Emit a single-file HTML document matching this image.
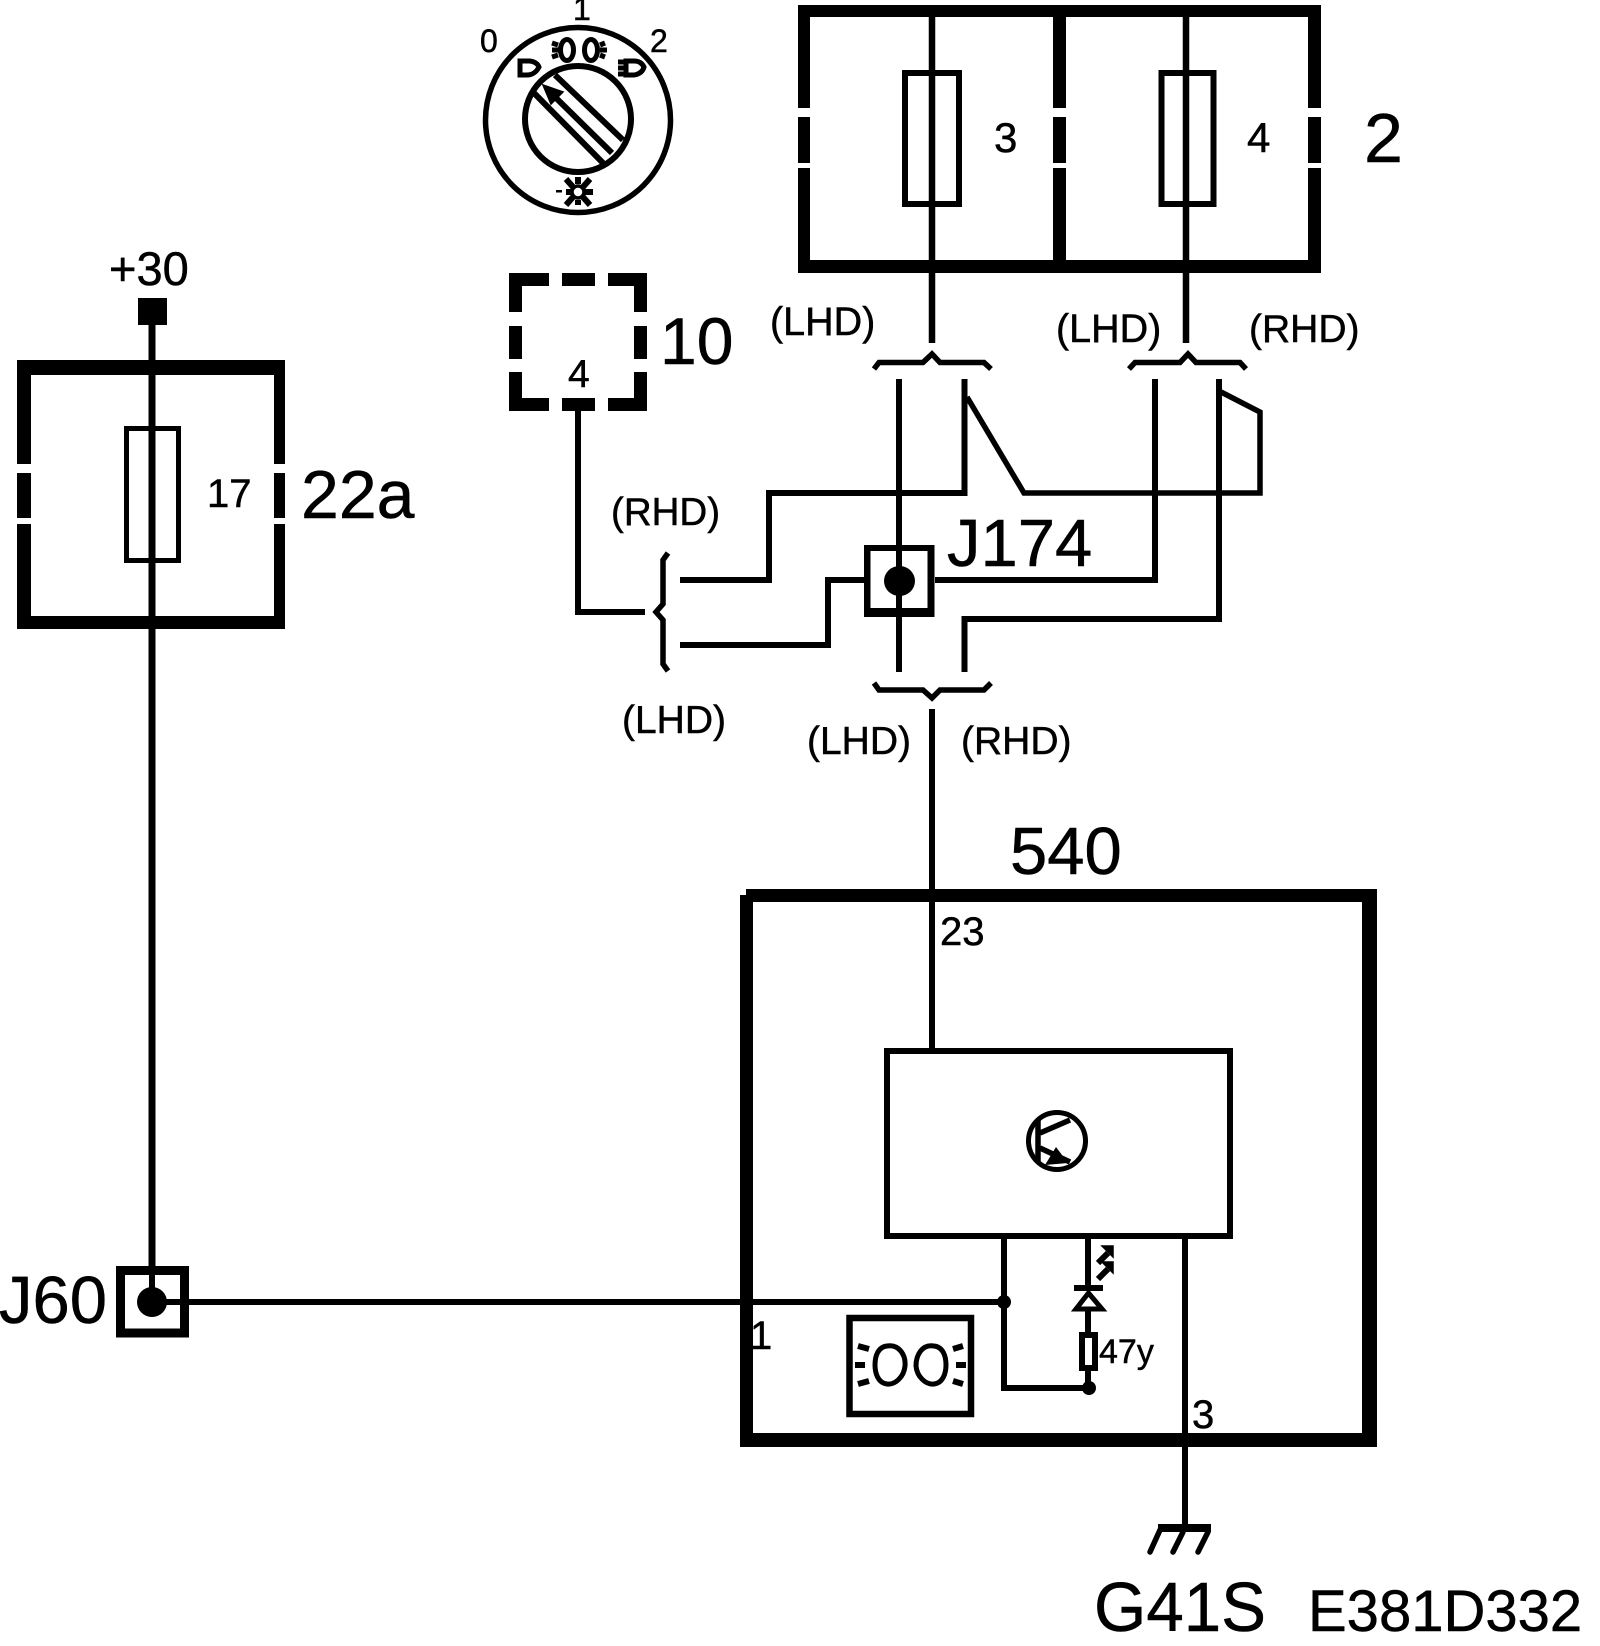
<!DOCTYPE html>
<html><head><meta charset="utf-8"><style>html,body{margin:0;padding:0;background:#fff}svg{display:block}text{font-family:"Liberation Sans",sans-serif;fill:#000;stroke:#000;stroke-width:.5px}</style></head>
<body>
<svg width="1600" height="1646" viewBox="0 0 1600 1646" xmlns="http://www.w3.org/2000/svg">
<rect width="1600" height="1646" fill="#fff"/>
<!-- fuse box 22a -->
<rect x="17" y="360" width="268" height="269"/>
<rect x="31" y="375" width="243" height="241" fill="#fff"/>
<g fill="#fff"><rect x="15" y="464" width="18" height="9"/><rect x="15" y="518" width="18" height="6"/><rect x="272" y="464" width="16" height="9"/><rect x="272" y="518" width="16" height="6"/></g>
<rect x="138" y="298" width="29" height="27"/>
<rect x="126.500" y="428.500" width="52" height="132" fill="#fff" stroke="#000" stroke-width="5"/>
<path d="M152 325V1302" stroke="#000" stroke-width="7" fill="none"/>
<!-- J60 -->
<rect x="120.500" y="1270.500" width="64" height="62.500" fill="#fff" stroke="#000" stroke-width="9"/>
<path d="M152 1266V1302M152 1302H1004" stroke="#000" stroke-width="6" fill="none"/>
<circle cx="152" cy="1302" r="15"/>
<!-- fuse box 2 -->
<rect x="798" y="5" width="523" height="268"/>
<rect x="810" y="17" width="243" height="243" fill="#fff"/>
<rect x="1066" y="17" width="242" height="243" fill="#fff"/>
<g fill="#fff"><rect x="796" y="108" width="16" height="9"/><rect x="796" y="163" width="16" height="5"/><rect x="1051" y="108" width="18" height="9"/><rect x="1051" y="163" width="18" height="5"/><rect x="1306" y="108" width="17" height="9"/><rect x="1306" y="163" width="17" height="5"/></g>
<rect x="905" y="73" width="54" height="131" fill="#fff" stroke="#000" stroke-width="6"/>
<rect x="1161.500" y="73" width="52" height="131" fill="#fff" stroke="#000" stroke-width="6"/>
<path d="M932 17V343M1186 17V343" stroke="#000" stroke-width="6.500" fill="none"/>
<!-- box 10 -->
<g>
<path d="M509 273H549V286H522V312H509Z"/><rect x="562" y="273" width="33" height="13"/><path d="M608 273H647V312H634V286H608Z"/>
<rect x="509" y="326" width="13" height="33"/><rect x="634" y="326" width="13" height="33"/>
<path d="M509 372H522V398H549V411H509Z"/><rect x="562" y="398" width="33" height="13"/><path d="M647 372H634V398H608V411H647Z"/>
</g>
<path d="M578 411V612H645" stroke="#000" stroke-width="6" fill="none"/>
<!-- braces -->
<g fill="none" stroke="#000" stroke-width="5.500">
<path d="M874 369L879 362.500H923L932 354L940 362.500H984L991 369"/>
<path d="M1129 369L1135 362.500H1180L1188 354L1196 362.500H1240L1246 369"/>
<path d="M874 683L879 690H923L932 698L940 690H984L991 683"/>
<path d="M668 553L663 560V604L656 612L663 620V664L668 671"/>
</g>
<!-- wiring -->
<g fill="none" stroke="#000" stroke-width="6" stroke-linejoin="miter">
<path d="M899 379V672"/>
<path d="M964.500 379V493H769V580H680"/>
<path d="M1155 379V580H935"/>
<path d="M864 580H828V645H680"/>
<path d="M1219 379V619H964.500V672"/>
<path d="M967 397L1024 493H1260V412L1221 392" stroke-width="5.500"/>
<path d="M932 709V1048"/>
</g>
<!-- J174 -->
<path d="M864 545H934.500V617H864ZM870.500 551V608H927.500V551Z" fill-rule="evenodd"/>
<ellipse cx="899.500" cy="581" rx="15.500" ry="15"/>
<!-- module 540 -->
<path d="M746 889H1377V1447H740V895H746ZM753 902V1433H1362V902Z" fill-rule="evenodd"/>
<path d="M932 902V1048" stroke="#000" stroke-width="6"/>
<rect x="887" y="1051" width="343" height="185" fill="#fff" stroke="#000" stroke-width="6"/>
<!-- transistor -->
<circle cx="1057" cy="1141" r="28.500" fill="none" stroke="#000" stroke-width="5"/>
<path d="M1038 1120V1163M1040 1133L1070 1120M1040 1148L1070 1162" stroke="#000" stroke-width="5.500" fill="none"/>
<path d="M1045 1165L1056 1147L1068 1163Z"/>
<!-- internal -->
<g fill="none" stroke="#000" stroke-width="6">
<path d="M1004 1239V1388H1088"/>
<path d="M1088 1239V1286M1088 1310V1388"/>
<path d="M1185 1239V1525"/>
</g>
<circle cx="1004" cy="1302" r="7"/><circle cx="1089" cy="1388" r="7"/>
<rect x="1074" y="1285" width="29" height="6"/>
<path d="M1088.500 1293L1076 1309H1102Z" fill="#fff" stroke="#000" stroke-width="5"/>
<rect x="1082" y="1335" width="13" height="33" fill="#fff" stroke="#000" stroke-width="6"/>
<path d="M1098 1263L1108 1253M1098 1279L1108 1269" stroke="#000" stroke-width="6" fill="none"/>
<path d="M1102 1246H1113V1257ZM1102 1262H1113V1273Z" stroke="#000" stroke-width="1.500"/>
<!-- lamp box -->
<rect x="849.500" y="1318" width="121.500" height="96" fill="#fff" stroke="#000" stroke-width="6.500"/>
<g fill="none" stroke="#000" stroke-width="5">
<path d="M887 1346C899 1344 906 1355 905 1366C904 1377 895 1385 887 1384C878 1383 875 1373 875 1365C875 1356 878 1347 887 1346Z"/>
<path d="M934 1346C922 1344 916 1355 916 1366C917 1377 926 1385 934 1384C943 1383 946 1373 946 1365C946 1356 943 1347 934 1346Z"/>
</g>
<g fill="none" stroke="#000" stroke-width="6">
<path d="M858 1346L869 1349M855 1365H865M858 1384L869 1381M953 1349L963 1346M956 1365H966M953 1381L963 1384"/>
</g>
<!-- ground -->
<path d="M1158 1524H1211V1532H1158Z"/>
<path d="M1160 1530L1150 1552M1183 1532L1173 1552M1208 1532L1198 1552" stroke="#000" stroke-width="5.500" fill="none" stroke-linecap="round"/>
<!-- rotary switch -->
<circle cx="578" cy="120" r="92.500" fill="#fff" stroke="#000" stroke-width="5.500"/>
<circle cx="578" cy="119" r="53" fill="#fff" stroke="#000" stroke-width="6"/>
<path d="M555 75L623 140M533 92L603 163" stroke="#000" stroke-width="6" fill="none"/>
<path d="M612 153L552 94" stroke="#000" stroke-width="6" fill="none"/>
<path d="M543 85L563 92L551 104Z" stroke="#000" stroke-width="1.500"/>
<g fill="none" stroke="#000" stroke-width="5">
<path d="M520 61H529C534 61 538 64 539 67C537 71 533 75 527 75H520Z"/>
<ellipse cx="567" cy="50" rx="6.500" ry="10.500"/>
<ellipse cx="591" cy="50" rx="6.500" ry="10.500"/>
<path d="M634 61H626V75H634C640 74 643 71 644 67C642 63 639 61 634 61Z"/>
<path d="M552 43L558 45M552 50H559M552 57L558 55M600 45L605 43M600 50H607M600 55L605 57"/>
<path d="M618 62H626M618 68H626M618 74H626"/>
</g>
<g stroke="#000" stroke-width="6" fill="none">
<path d="M566 192H572M584 192H593M578 177V184M578 200V205M566 179L573 187M590 179L583 187M566 205L573 197M590 205L583 197"/>
</g>
<circle cx="578" cy="192" r="6" fill="none" stroke="#000" stroke-width="3.500"/>
<rect x="556" y="190" width="6" height="2.500"/>
<!-- labels -->
<text x="480" y="52" font-size="32">0</text>
<text x="573" y="20" font-size="32">1</text>
<text x="650" y="52" font-size="32">2</text>
<text x="109" y="285" font-size="47">+30</text>
<text x="207" y="507" font-size="40">17</text>
<text x="301" y="518" font-size="68">22a</text>
<text x="-1" y="1323" font-size="67">J60</text>
<text x="994" y="152" font-size="42">3</text>
<text x="1247" y="152" font-size="42">4</text>
<text x="1364" y="162" font-size="70">2</text>
<text x="660" y="364" font-size="66">10</text>
<text x="568" y="387" font-size="39">4</text>
<text x="770" y="335" font-size="39.500">(LHD)</text>
<text x="1056" y="342" font-size="39.500">(LHD)</text>
<text x="1249" y="342" font-size="39">(RHD)</text>
<text x="611" y="525" font-size="38.500">(RHD)</text>
<text x="947" y="566" font-size="67">J174</text>
<text x="622" y="733" font-size="39">(LHD)</text>
<text x="807" y="754" font-size="39">(LHD)</text>
<text x="961" y="754" font-size="39">(RHD)</text>
<text x="1010" y="874" font-size="67">540</text>
<text x="940" y="945" font-size="40">23</text>
<text x="750" y="1349" font-size="40">1</text>
<text x="1192" y="1428" font-size="40">3</text>
<text x="1099" y="1363" font-size="34">47y</text>
<text x="1094" y="1631" font-size="70" textLength="172" lengthAdjust="spacingAndGlyphs">G41S</text>
<text x="1308" y="1631" font-size="58">E381D332</text>
</svg>
</body></html>
